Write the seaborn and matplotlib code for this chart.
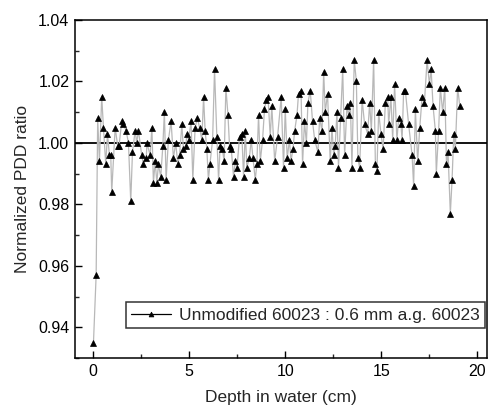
import matplotlib
matplotlib.use("Agg")
import matplotlib.pyplot as plt
from matplotlib.ticker import MultipleLocator
import seaborn as sns
import pandas as pd

depth = [0.02, 0.16, 0.24, 0.33, 0.45, 0.54, 0.66, 0.75, 0.85, 0.92, 0.97, 1.15, 1.28, 1.35,
         1.49, 1.58, 1.72, 1.84, 1.96, 2.05, 2.19, 2.27, 2.36, 2.53, 2.62, 2.77, 2.80, 2.97,
         3.06, 3.14, 3.23, 3.32, 3.40, 3.52, 3.63, 3.71, 3.80, 3.92, 4.06, 4.18, 4.30, 4.41,
         4.50, 4.62, 4.70, 4.83, 4.88, 4.97, 5.10, 5.19, 5.31, 5.43, 5.54, 5.66, 5.75, 5.83,
         5.92, 6.00, 6.08, 6.22, 6.32, 6.44, 6.53, 6.61, 6.73, 6.82, 6.91, 7.02, 7.10, 7.19,
         7.31, 7.40, 7.49, 7.62, 7.74, 7.83, 7.92, 8.00, 8.13, 8.23, 8.32, 8.44, 8.52, 8.61,
         8.70, 8.82, 8.92, 9.01, 9.10, 9.22, 9.30, 9.45, 9.60, 9.79, 9.91, 10.00, 10.10, 10.22,
         10.30, 10.40, 10.49, 10.61, 10.69, 10.82, 10.90, 11.00, 11.10, 11.18, 11.30, 11.42,
         11.53, 11.70, 11.79, 11.91, 12.00, 12.08, 12.20, 12.34, 12.43, 12.52, 12.60, 12.69,
         12.77, 12.88, 12.99, 13.09, 13.21, 13.30, 13.39, 13.47, 13.59, 13.70, 13.78, 13.87,
         14.00, 14.13, 14.29, 14.39, 14.48, 14.60, 14.69, 14.77, 14.86, 14.98, 15.09, 15.21,
         15.33, 15.38, 15.50, 15.59, 15.69, 15.81, 15.90, 16.02, 16.08, 16.16, 16.25, 16.42,
         16.60, 16.68, 16.77, 16.89, 17.00, 17.12, 17.24, 17.38, 17.50, 17.59, 17.69, 17.81,
         17.86, 17.98, 18.07, 18.19, 18.30, 18.39, 18.47, 18.59, 18.68, 18.77, 18.85, 18.97,
         19.08]
ratio = [0.935, 0.957, 1.008, 0.994, 1.015, 1.005, 0.993, 1.003, 0.996, 0.996, 0.984, 1.005, 0.999, 0.999,
         1.007, 1.006, 1.004, 1.000, 0.981, 0.997, 1.004, 1.000, 1.004, 0.996, 0.993, 0.995, 1.000, 0.996,
         1.005, 0.987, 0.994, 0.987, 0.993, 0.989, 0.999, 1.010, 0.988, 1.001, 1.007, 0.995, 1.000, 0.993,
         0.996, 1.006, 0.998, 0.999, 1.003, 1.001, 1.007, 0.988, 1.005, 1.008, 1.005, 1.001, 1.015, 1.004,
         0.998, 0.988, 0.993, 1.001, 1.024, 1.002, 0.988, 0.999, 0.998, 0.994, 1.018, 1.009, 0.999, 0.998,
         0.989, 0.994, 0.992, 1.002, 1.003, 0.989, 1.004, 0.992, 0.995, 1.001, 0.995, 0.988, 0.993, 1.009,
         0.994, 1.001, 1.011, 1.014, 1.015, 1.002, 1.012, 0.994, 1.002, 1.015, 0.992, 1.011, 0.995, 1.001,
         0.994, 0.998, 1.004, 1.009, 1.016, 1.017, 0.993, 1.007, 1.000, 1.013, 1.017, 1.007,
         1.001, 0.997, 1.008, 1.004, 1.023, 1.010, 1.016, 0.994, 1.005, 0.996, 0.999, 1.010,
         0.992, 1.008, 1.024, 0.996, 1.012, 1.009, 1.013, 0.992, 1.027, 1.020, 0.995, 0.992,
         1.014, 1.006, 1.003, 1.013, 1.004, 1.027, 0.993, 0.991, 1.010, 1.003, 0.998, 1.013,
         1.015, 1.006, 1.015, 1.001, 1.019, 1.001, 1.008, 1.006, 1.001, 1.017, 1.017, 1.006,
         0.996, 0.986, 1.011, 0.994, 1.005, 1.015, 1.013, 1.027, 1.019, 1.024, 1.012, 1.004,
         0.990, 1.004, 1.018, 1.010, 1.018, 0.993, 0.997, 0.977, 0.988, 1.003, 0.998, 1.018,
         1.012]
series_label = "Unmodified 60023 : 0.6 mm a.g. 60023"
x_label = "Depth in water (cm)"
y_label = "Normalized PDD ratio"
y_ticks = [0.94, 0.96, 0.98, 1.00, 1.02, 1.04]
y_tick_labels = ["0.94", "0.96", "0.98", "1.00", "1.02", "1.04"]

df = pd.DataFrame({"depth": depth, "ratio": ratio})

sns.set_style("ticks")
plt.rcParams["font.family"] = ["Liberation Sans", "DejaVu Sans"]

fig = plt.figure(figsize=(4.89, 4.15), dpi=100)
ax = fig.add_axes([0.153, 0.137, 0.843, 0.815])

sns.lineplot(data=df, x="depth", y="ratio", ax=ax, color="#b8b8b8", linewidth=0.9,
             marker="^", markersize=4.8, markerfacecolor="black", markeredgecolor="black",
             markeredgewidth=0.5, label=series_label, sort=False)
ax.axhline(1.0, color="black", linewidth=1.3, zorder=1)

ax.set_xlim(-0.95, 20.5)
ax.set_ylim(0.93, 1.04)
ax.xaxis.set_major_locator(MultipleLocator(5))
ax.xaxis.set_minor_locator(MultipleLocator(2.5))
ax.yaxis.set_minor_locator(MultipleLocator(0.01))
ax.set_yticks(y_ticks)
ax.set_yticklabels(y_tick_labels)
ax.tick_params(which="major", direction="in", length=5, width=1, labelsize=11.5,
               colors="black", pad=4)
ax.tick_params(which="minor", direction="in", length=3, width=1)
for s in ax.spines.values():
    s.set_linewidth(1.1)
    s.set_color("black")

ax.set_xlabel(x_label, fontsize=12.5, labelpad=8)
ax.set_ylabel(y_label, fontsize=12.5, labelpad=6)

leg = ax.legend(loc="lower right", bbox_to_anchor=(0.995, 0.089), borderaxespad=0,
                fontsize=12.5, frameon=True, fancybox=False, handlelength=2.3,
                handletextpad=0.45, borderpad=0.3)
leg.get_frame().set_edgecolor("black")
leg.get_frame().set_linewidth(1.1)
for ln in leg.get_lines():
    ln.set_color("black")
    ln.set_markersize(3.5)

fig.savefig("out.png", dpi=100)
